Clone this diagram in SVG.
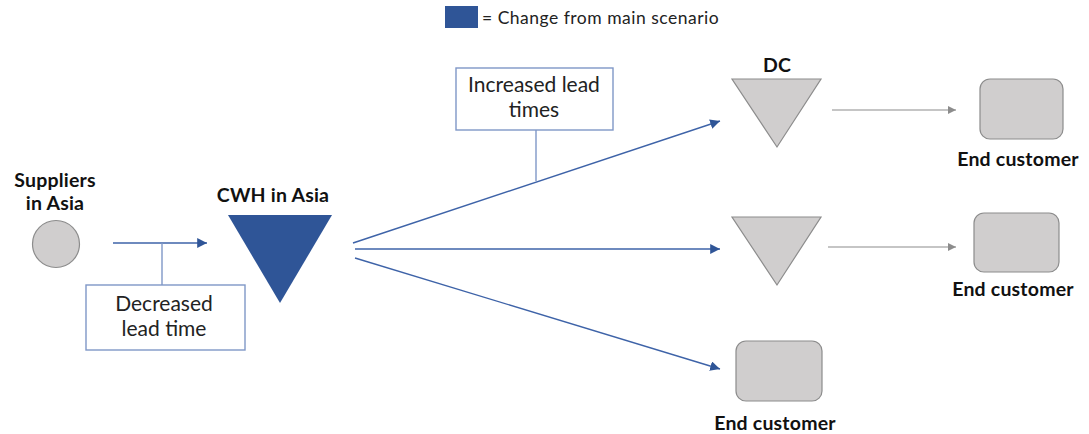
<svg xmlns="http://www.w3.org/2000/svg" width="1089" height="434" viewBox="0 0 1089 434">
  <style>
    .label { font-family: Lato, "Noto Sans", sans-serif; fill: #111; text-anchor: middle; }
    .node-title { font-size: 19.5px; font-weight: 700; letter-spacing: 0.2px; }
    .note { font-size: 21px; font-weight: 400; fill: #222; }
    .legend { font-family: Lato, "Noto Sans", sans-serif; font-size: 17.5px; letter-spacing: 0.5px; fill: #222; }
    .grey { fill: #D0CECE; stroke: #8C8C8C; stroke-width: 1.2; }
    .blue { fill: #2F5597; }
    .flow { stroke: #3E63A8; stroke-width: 1.4; fill: none; marker-end: url(#blueHead); }
    .out { stroke: #8C8C8C; stroke-width: 1.2; fill: none; marker-end: url(#greyHead); }
    .callout { stroke: #7F97C7; stroke-width: 1.4; fill: none; }
    .notebox { fill: #fff; stroke: #7F97C7; stroke-width: 1.4; }
  </style>
  <defs>
    <marker id="blueHead" viewBox="0 0 10 10" refX="10" refY="5" markerWidth="7" markerHeight="7" orient="auto" markerUnits="strokeWidth">
      <path d="M0,0 L10,5 L0,10 z" fill="#2F5597"/>
    </marker>
    <marker id="greyHead" viewBox="0 0 10 10" refX="10" refY="5" markerWidth="7" markerHeight="7" orient="auto" markerUnits="strokeWidth">
      <path d="M0,0 L10,5 L0,10 z" fill="#8C8C8C"/>
    </marker>
  </defs>

  <!-- legend -->
  <g id="legend">
    <rect x="445" y="6" width="33" height="22" class="blue"/>
    <text x="482" y="24" class="legend">= Change from main scenario</text>
  </g>

  <!-- connectors -->
  <g id="connectors">
    <line x1="113" y1="243" x2="207" y2="243" class="flow"/>
    <line x1="162" y1="243" x2="162" y2="285" class="callout"/>
    <line x1="353" y1="243" x2="720" y2="121" class="flow"/>
    <line x1="536" y1="181" x2="536" y2="130" class="callout"/>
    <line x1="355" y1="249" x2="720" y2="249" class="flow"/>
    <line x1="355" y1="258" x2="720" y2="369" class="flow"/>
    <line x1="832" y1="110" x2="956" y2="110" class="out"/>
    <line x1="828" y1="247" x2="956" y2="247" class="out"/>
  </g>

  <!-- annotation boxes -->
  <g id="note-decreased">
    <rect x="86" y="285" width="159" height="65" class="notebox"/>
    <text x="164" y="311" class="label note">Decreased</text>
    <text x="164" y="336" class="label note">lead time</text>
  </g>
  <g id="note-increased">
    <rect x="456" y="68" width="157" height="62" class="notebox"/>
    <text x="534" y="92" class="label note">Increased lead</text>
    <text x="534" y="117" class="label note">times</text>
  </g>

  <!-- nodes -->
  <g id="suppliers">
    <circle cx="56" cy="244" r="23.5" class="grey"/>
    <text x="55" y="187" class="label node-title">Suppliers</text>
    <text x="55" y="210" class="label node-title">in Asia</text>
  </g>
  <g id="cwh">
    <polygon points="228,215 332,215 280,303" class="blue"/>
    <text x="273" y="202" class="label node-title">CWH in Asia</text>
  </g>
  <g id="dc-1">
    <polygon points="732,79 821,79 777,147" class="grey"/>
    <text x="777" y="72" class="label node-title">DC</text>
  </g>
  <g id="dc-2">
    <polygon points="732,217 821,217 777,285" class="grey"/>
  </g>
  <g id="customer-1">
    <rect x="980" y="79" width="83" height="60" rx="10" class="grey"/>
    <text x="1018" y="166" class="label node-title">End customer</text>
  </g>
  <g id="customer-2">
    <rect x="974" y="213" width="85" height="59" rx="10" class="grey"/>
    <text x="1013" y="296" class="label node-title">End customer</text>
  </g>
  <g id="customer-3">
    <rect x="736" y="341" width="86" height="60" rx="10" class="grey"/>
    <text x="775" y="430" class="label node-title">End customer</text>
  </g>
</svg>
